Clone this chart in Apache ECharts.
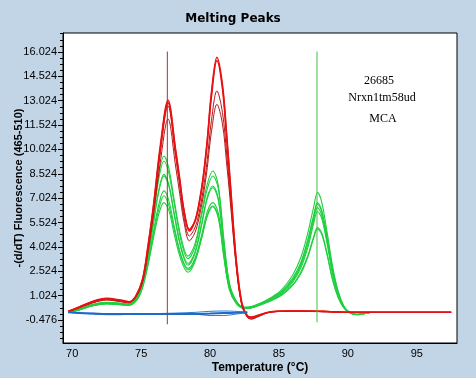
<!DOCTYPE html>
<html><head><meta charset="utf-8">
<script src="https://cdn.jsdelivr.net/npm/echarts@6/dist/echarts.min.js"></script>
<style>html,body{margin:0;padding:0;background:#c2d5e7;}#c{width:476px;height:378px;}</style>
</head><body><div id="c"></div>
<script>
// ---- data ----
const xTickLabels = [70, 75, 80, 85, 90, 95];
const yTickLabels = [-0.476, 1.024, 2.524, 4.024, 5.524, 7.024, 8.524, 10.024, 11.524, 13.024, 14.524, 16.024];

const redT = [69.7, 70.5, 71.5, 72.5, 73.5, 74.1, 74.6, 75.1, 75.5, 75.9, 76.4, 76.95, 77.5, 77.8, 78.1, 78.5, 78.9, 79.2, 79.5, 79.8, 80.1, 80.5, 80.9, 81.2, 81.45, 81.9, 82.3, 82.7, 83.0, 83.5, 84.3, 85.5, 87.0, 88.5, 90.0, 92.0, 97.5];
const red1 = [0.05,0.3,0.65,0.83,0.72,0.62,0.95,2.0,4.1,6.6,10.3,13.05,10.0,8.2,6.3,5.0,5.6,6.7,8.3,10.6,13.5,15.7,14.0,11.0,8.2,3.2,0.6,-0.25,-0.33,-0.2,0.0,0.08,0.08,0.05,0.0,0.0,0.0];
const red2 = [0.05,0.32,0.68,0.86,0.75,0.65,0.98,2.0,4.0,6.5,10.1,12.9,9.9,8.1,6.3,5.1,5.6,6.6,8.2,10.5,13.3,15.5,13.8,10.8,8.0,3.1,0.55,-0.2,-0.3,-0.18,0.02,0.08,0.08,0.05,0.0,0.0,0.0];
const red3 = [0.05,0.28,0.6,0.78,0.68,0.6,0.92,1.9,3.9,6.3,9.9,12.7,9.6,7.8,5.9,4.7,5.2,6.1,7.5,9.4,11.8,13.62,12.3,9.8,7.4,2.9,0.5,-0.28,-0.4,-0.25,0.0,0.06,0.06,0.04,0.0,0.0,0.0];
const red4 = [0.05,0.27,0.58,0.75,0.65,0.58,0.9,1.85,3.7,6.0,9.3,11.9,9.0,7.3,5.6,4.4,4.9,5.8,7.1,8.9,11.1,12.8,11.6,9.2,7.0,2.8,0.45,-0.3,-0.42,-0.27,0.0,0.05,0.05,0.03,0.0,0.0,0.0];

const greenT = [69.7, 70.5, 71.5, 72.5, 73.5, 74.1, 74.7, 75.1, 75.5, 75.9, 76.3, 76.65, 77.0, 77.4, 77.9, 78.4, 78.9, 79.4, 79.8, 80.2, 80.6, 81.0, 81.4, 81.9, 82.5, 83.0, 83.6, 84.4, 85.2, 86.0, 86.6, 87.1, 87.5, 87.8, 88.1, 88.5, 88.9, 89.3, 89.7, 90.1, 90.6, 91.1, 91.7];
const green1 = [0.0,0.2,0.5,0.62,0.55,0.5,0.9,1.8,3.7,6.2,8.6,9.62,8.9,6.9,4.6,3.46,4.2,6.2,7.9,8.7,7.8,4.5,1.8,0.7,0.3,0.35,0.55,0.9,1.4,2.3,3.4,4.9,6.4,7.37,6.8,4.9,2.8,1.3,0.4,0.0,-0.15,-0.1,0.0];
const green2 = [0.0,0.18,0.48,0.6,0.55,0.5,0.88,1.75,3.6,6.0,8.3,9.31,8.6,6.7,4.4,3.3,4.0,6.0,7.6,8.39,7.6,4.4,1.8,0.7,0.3,0.33,0.5,0.85,1.3,2.1,3.1,4.5,5.9,6.75,6.3,4.6,2.6,1.2,0.35,0.0,-0.15,-0.1,0.0];
const green3 = [0.0,0.17,0.45,0.58,0.52,0.48,0.85,1.7,3.4,5.6,7.6,8.49,7.9,6.1,4.0,3.0,3.7,5.5,7.1,7.77,7.0,4.1,1.7,0.65,0.28,0.32,0.5,0.82,1.25,2.0,3.0,4.4,5.8,6.65,6.2,4.5,2.5,1.15,0.35,0.0,-0.14,-0.1,0.0];
const green4 = [0.0,0.16,0.44,0.57,0.5,0.47,0.84,1.68,3.35,5.5,7.5,8.39,7.8,6.0,3.9,2.9,3.6,5.4,7.0,7.67,6.9,4.0,1.65,0.62,0.27,0.3,0.48,0.8,1.22,1.95,2.9,4.2,5.6,6.44,6.0,4.35,2.4,1.1,0.33,0.0,-0.14,-0.1,0.0];
const green5 = [0.0,0.15,0.42,0.55,0.48,0.45,0.8,1.6,3.1,5.0,6.7,7.47,6.9,5.3,3.5,2.7,3.3,4.8,6.2,6.75,6.1,3.6,1.5,0.58,0.25,0.28,0.45,0.72,1.1,1.7,2.5,3.5,4.6,5.21,4.9,3.6,2.0,0.95,0.3,0.0,-0.13,-0.08,0.0];
const green6 = [0.0,0.15,0.4,0.53,0.47,0.44,0.78,1.55,3.0,4.8,6.4,7.17,6.6,5.1,3.4,2.6,3.2,4.6,6.0,6.54,5.9,3.5,1.45,0.56,0.24,0.27,0.44,0.7,1.05,1.65,2.4,3.4,4.5,5.11,4.8,3.5,1.95,0.9,0.28,0.0,-0.12,-0.08,0.0];
const green7 = [0.0,0.14,0.4,0.52,0.46,0.43,0.76,1.5,2.9,4.6,6.1,6.75,6.3,4.8,3.2,2.46,3.1,4.6,5.9,6.5,5.8,3.4,1.4,0.55,0.24,0.28,0.46,0.75,1.15,1.85,2.75,4.0,5.4,6.2,5.8,4.2,2.3,1.05,0.32,0.0,-0.13,-0.08,0.0];

const blueT = [69.7, 70.5, 71.5, 72.5, 73.5, 74.5, 76, 77.5, 79, 80, 81, 81.8, 82.7];
const blue1 = [0.0,-0.05,-0.08,-0.1,-0.1,-0.1,-0.1,-0.1,-0.1,-0.08,-0.05,-0.03,0.0];
const blue2 = [0.03,-0.05,-0.1,-0.15,-0.15,-0.1,-0.08,-0.05,0.0,0.06,0.08,0.06,0.0];
const blue3 = [0.0,-0.04,-0.06,-0.08,-0.1,-0.1,-0.1,-0.1,-0.12,-0.2,-0.2,-0.12,-0.02];

const redMarkerT = 76.9;
const greenMarkerT = 87.76;
const redMarkerY = [16.05, -0.74];
const greenMarkerY = [16.05, -0.62];

const annotation = ['26685', 'Nrxn1tm58ud', 'MCA'];

// ---- build ----
const zip = (xs, ys) => xs.map((x, i) => [x, ys[i]]);
const minorTicks = [];
for (let i = -1; i < yTickLabels.length; i++) {
  const base = i < 0 ? yTickLabels[0] - 1.5 : yTickLabels[i];
  for (let k = 1; k <= 3; k++) {
    const v = base + k * 0.375;
    if (v > -1.89 && v < 17.19) minorTicks.push(+v.toFixed(3));
  }
}

const series = [];
function addLine(xs, ys, color, width) {
  series.push({
    type: 'line', data: zip(xs, ys), showSymbol: false, smooth: 0.35,
    lineStyle: { color: color, width: width }, silent: true, z: 2
  });
}
[green1, green2, green3, green4, green5, green6, green7].forEach(g => addLine(greenT, g, '#1fcf3f', 1.1));
addLine(redT, red4, '#b41616', 1);
addLine(redT, red3, '#b41616', 1);
addLine(redT, red2, '#e81010', 1.6);
addLine(redT, red1, '#e81010', 1.6);
addLine(blueT, blue3, '#2a7ad6', 1);
addLine(blueT, blue2, '#2a7ad6', 1);
addLine(blueT, blue1, '#1a6cc8', 2);
series.push({ type: 'line', data: [[redMarkerT, redMarkerY[0]], [redMarkerT, redMarkerY[1]]], showSymbol: false, lineStyle: { color: '#a83030', width: 1 }, silent: true, z: 3 });
series.push({ type: 'line', data: [[greenMarkerT, greenMarkerY[0]], [greenMarkerT, greenMarkerY[1]]], showSymbol: false, lineStyle: { color: '#40c040', width: 1 }, silent: true, z: 3 });

const chart = echarts.init(document.getElementById('c'), null, { renderer: 'canvas' });
chart.setOption({
  animation: false,
  backgroundColor: '#c2d5e7',
  grid: { left: 63, top: 33, right: 19, bottom: 35, containLabel: false, outerBoundsMode: 'none', show: true, backgroundColor: '#ffffff', borderColor: '#000', borderWidth: 1 },
  xAxis: {
    type: 'value', min: 69.33, max: 97.92,
    name: 'Temperature (°C)', nameLocation: 'middle', nameGap: 19, nameMoveOverlap: false,
    nameTextStyle: { fontFamily: 'Liberation Sans', fontWeight: 'bold', fontSize: 12, color: '#000' },
    axisLine: { onZero: false, lineStyle: { color: '#000' } },
    axisTick: { show: false },
    splitLine: { show: false },
    axisLabel: { customValues: xTickLabels, fontFamily: 'Liberation Sans', fontSize: 11, color: '#000', margin: 5 }
  },
  yAxis: [{
    type: 'value', min: -1.89, max: 17.19,
    name: '-(d/dT) Fluorescence (465-510)', nameLocation: 'middle', nameGap: 39, nameMoveOverlap: false,
    nameTextStyle: { fontFamily: 'Liberation Sans', fontWeight: 'bold', fontSize: 11, color: '#000' },
    axisLine: { show: true, onZero: false, lineStyle: { color: '#000' } },
    axisTick: { show: true, customValues: yTickLabels, length: 5, lineStyle: { color: '#000' } },
    splitLine: { show: false },
    axisLabel: { customValues: yTickLabels, formatter: v => v.toFixed(3), fontFamily: 'Liberation Sans', fontSize: 11, color: '#000', margin: 6 }
  }, {
    type: 'value', min: -1.89, max: 17.19, position: 'left',
    axisLine: { show: false, onZero: false },
    axisTick: { show: true, customValues: minorTicks, length: 3, lineStyle: { color: '#000' } },
    axisLabel: { show: false }, splitLine: { show: false }
  }],
  series: series,
  graphic: [
    { type: 'text', x: 233, y: 19, style: { text: 'Melting Peaks', align: 'center', verticalAlign: 'middle', font: 'bold 12px "DejaVu Sans"', fill: '#000' } },
    { type: 'text', x: 379, y: 81, style: { text: annotation[0], align: 'center', verticalAlign: 'middle', font: '12px "Liberation Serif"', fill: '#000' } },
    { type: 'text', x: 382, y: 98, style: { text: annotation[1], align: 'center', verticalAlign: 'middle', font: '12px "Liberation Serif"', fill: '#000' } },
    { type: 'text', x: 383, y: 119, style: { text: annotation[2], align: 'center', verticalAlign: 'middle', font: '12px "Liberation Serif"', fill: '#000' } }
  ]
});
</script></body></html>
